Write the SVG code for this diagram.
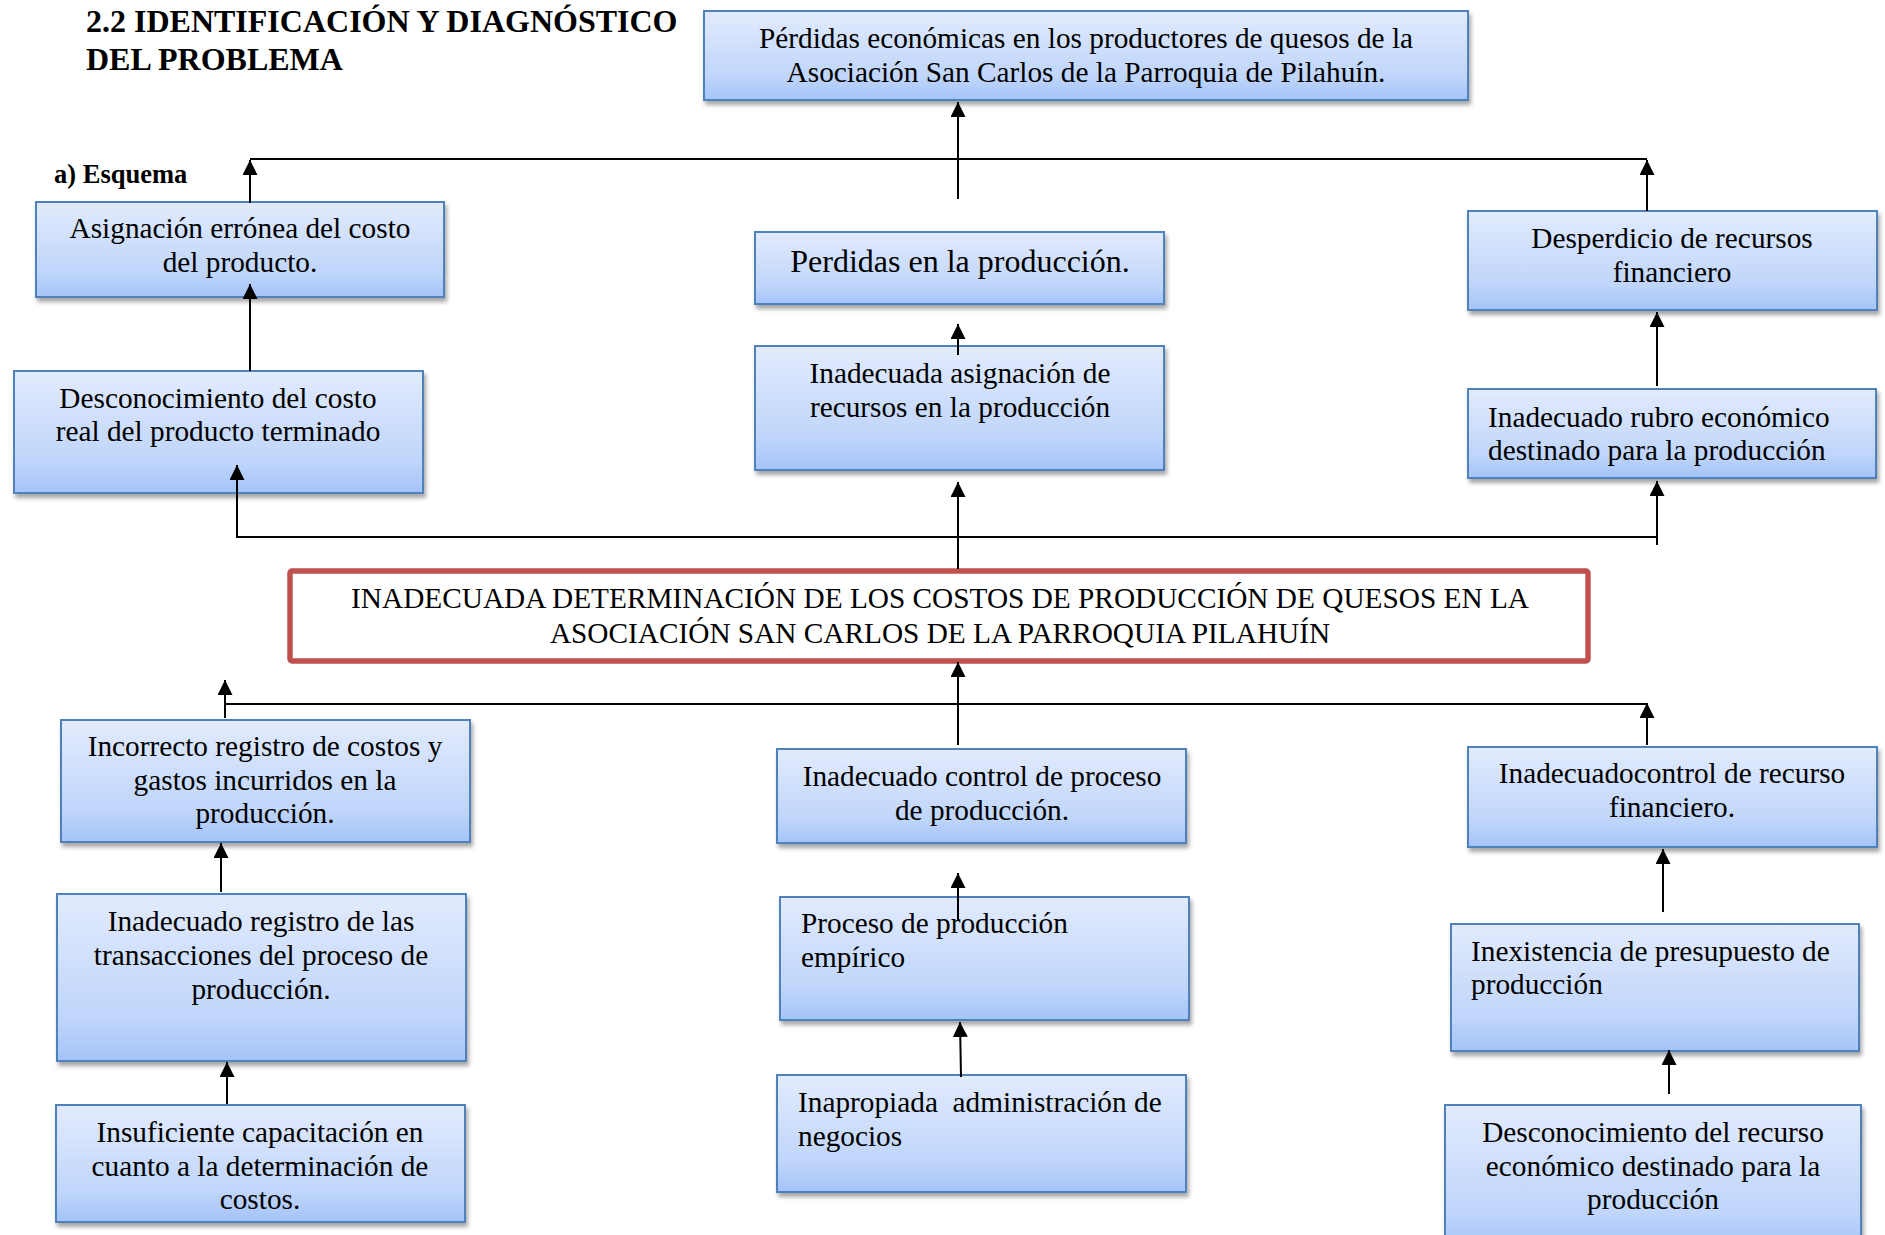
<svg xmlns="http://www.w3.org/2000/svg" width="1885" height="1235" viewBox="0 0 1885 1235">
<defs>
<linearGradient id="g" x1="0" y1="0" x2="0" y2="1">
<stop offset="0" stop-color="#e2ebfd"/>
<stop offset="0.75" stop-color="#bfd5fa"/>
<stop offset="1" stop-color="#a3c3f8"/>
</linearGradient>
<filter id="sh" x="-5%" y="-10%" width="115%" height="130%">
<feGaussianBlur in="SourceAlpha" stdDeviation="2.2"/>
<feOffset dx="2" dy="4" result="b"/>
<feFlood flood-color="#000" flood-opacity="0.35"/>
<feComposite in2="b" operator="in"/>
<feMerge><feMergeNode/><feMergeNode in="SourceGraphic"/></feMerge>
</filter>
<marker id="ah" viewBox="0 0 15 15" refX="15" refY="7.5" markerWidth="15" markerHeight="15" markerUnits="userSpaceOnUse" orient="auto">
<path d="M0,0 L15,7.5 L0,15 z" fill="#000"/>
</marker>
</defs>
<style>
.box{fill:url(#g);stroke:#4f81bd;stroke-width:2;filter:url(#sh)}
.red{fill:#fff;stroke:#c0504d;stroke-width:5.4}
text{font-family:"Liberation Serif","Times New Roman",serif;font-size:29.3px;fill:#000}
.c{text-anchor:middle}
.h{font-weight:bold;font-size:32px}
.e{font-weight:bold;font-size:26.5px}
.big{font-size:32px}
.ln{stroke:#000;stroke-width:2;fill:none}
.ar{stroke:#000;stroke-width:2;fill:none;marker-end:url(#ah)}
</style>
<rect width="1885" height="1235" fill="#fff"/>

<g id="title">
<text class="h" x="86" y="32">2.2 IDENTIFICACIÓN Y DIAGNÓSTICO</text>
<text class="h" x="86" y="70">DEL PROBLEMA</text>
<text class="e" x="54" y="183">a) Esquema</text>
</g>

<g id="n-perdidas-economicas">
<rect class="box" x="704" y="11" width="764" height="89"/>
<text class="c" x="1086" y="48">Pérdidas económicas en los productores de quesos de la</text>
<text class="c" x="1086" y="82">Asociación San Carlos de la Parroquia de Pilahuín.</text>
</g>

<g id="n-asignacion">
<rect class="box" x="36" y="202" width="408" height="95"/>
<text class="c" x="240" y="238">Asignación errónea del costo</text>
<text class="c" x="240" y="272">del producto.</text>
</g>

<g id="n-perdidas-produccion">
<rect class="box" x="755" y="232" width="409" height="72"/>
<text class="c big" x="960" y="272">Perdidas en la producción.</text>
</g>

<g id="n-desperdicio">
<rect class="box" x="1468" y="211" width="409" height="99"/>
<text class="c" x="1672" y="248">Desperdicio de recursos</text>
<text class="c" x="1672" y="282">financiero</text>
</g>

<g id="n-desconocimiento-costo">
<rect class="box" x="14" y="371" width="409" height="122"/>
<text class="c" x="218" y="408">Desconocimiento del costo</text>
<text class="c" x="218" y="441">real del producto terminado</text>
</g>

<g id="n-inadecuada-asignacion">
<rect class="box" x="755" y="346" width="409" height="124"/>
<text class="c" x="960" y="383">Inadecuada asignación de</text>
<text class="c" x="960" y="417">recursos en la producción</text>
</g>

<g id="n-inadecuado-rubro">
<rect class="box" x="1468" y="389" width="408" height="89"/>
<text x="1488" y="427">Inadecuado rubro económico</text>
<text x="1488" y="460">destinado para la producción</text>
</g>

<g id="n-problema">
<rect class="red" x="290" y="571" width="1298" height="90" rx="2"/>
<text class="c" x="940" y="608">INADECUADA DETERMINACIÓN DE LOS COSTOS DE PRODUCCIÓN DE QUESOS EN LA</text>
<text class="c" x="940" y="643">ASOCIACIÓN SAN CARLOS DE LA PARROQUIA PILAHUÍN</text>
</g>

<g id="n-incorrecto-registro">
<rect class="box" x="61" y="720" width="409" height="122"/>
<text class="c" x="265" y="756">Incorrecto registro de costos y</text>
<text class="c" x="265" y="790">gastos incurridos en la</text>
<text class="c" x="265" y="823">producción.</text>
</g>

<g id="n-inadecuado-registro">
<rect class="box" x="57" y="894" width="409" height="167"/>
<text class="c" x="261" y="931">Inadecuado registro de las</text>
<text class="c" x="261" y="965">transacciones del proceso de</text>
<text class="c" x="261" y="999">producción.</text>
</g>

<g id="n-insuficiente">
<rect class="box" x="56" y="1105" width="409" height="117"/>
<text class="c" x="260" y="1142">Insuficiente capacitación en</text>
<text class="c" x="260" y="1176">cuanto a la determinación de</text>
<text class="c" x="260" y="1209">costos.</text>
</g>

<g id="n-inadecuado-control-proceso">
<rect class="box" x="777" y="749" width="409" height="94"/>
<text class="c" x="982" y="786">Inadecuado control de proceso</text>
<text class="c" x="982" y="820">de producción.</text>
</g>

<g id="n-proceso-empirico">
<rect class="box" x="780" y="897" width="409" height="123"/>
<text x="801" y="933">Proceso de producción</text>
<text x="801" y="967">empírico</text>
</g>

<g id="n-inapropiada">
<rect class="box" x="777" y="1075" width="409" height="117"/>
<text x="798" y="1112">Inapropiada&#160; administración de</text>
<text x="798" y="1146">negocios</text>
</g>

<g id="n-inadecuadocontrol-recurso">
<rect class="box" x="1468" y="747" width="409" height="100"/>
<text class="c" x="1672" y="783">Inadecuadocontrol de recurso</text>
<text class="c" x="1672" y="817">financiero.</text>
</g>

<g id="n-inexistencia">
<rect class="box" x="1451" y="924" width="408" height="127"/>
<text x="1471" y="961">Inexistencia de presupuesto de</text>
<text x="1471" y="994">producción</text>
</g>

<g id="n-desconocimiento-recurso">
<rect class="box" x="1445" y="1105" width="416" height="145"/>
<text class="c" x="1653" y="1142">Desconocimiento del recurso</text>
<text class="c" x="1653" y="1176">económico destinado para la</text>
<text class="c" x="1653" y="1209">producción</text>
</g>

<g id="connectors">
<line class="ln" x1="250" y1="159" x2="1647" y2="159"/>
<line class="ar" x1="250" y1="203" x2="250" y2="160"/>
<line class="ar" x1="1647" y1="211" x2="1647" y2="160"/>
<line class="ar" x1="958" y1="199" x2="958" y2="102"/>
<line class="ar" x1="250" y1="371" x2="250" y2="284"/>
<line class="ar" x1="958" y1="355" x2="958" y2="324"/>
<line class="ar" x1="1657" y1="386" x2="1657" y2="312"/>
<line class="ln" x1="237" y1="537" x2="1657" y2="537"/>
<line class="ar" x1="237" y1="538" x2="237" y2="465"/>
<line class="ar" x1="958" y1="569" x2="958" y2="482"/>
<line class="ar" x1="1657" y1="545" x2="1657" y2="481"/>
<line class="ln" x1="225" y1="704" x2="1647" y2="704"/>
<line class="ar" x1="225" y1="718" x2="225" y2="680"/>
<line class="ar" x1="958" y1="745" x2="958" y2="662"/>
<line class="ar" x1="1647" y1="745" x2="1647" y2="703"/>
<line class="ar" x1="221" y1="892" x2="221" y2="843"/>
<line class="ar" x1="227" y1="1104" x2="227" y2="1062"/>
<line class="ar" x1="958" y1="921" x2="958" y2="873"/>
<line class="ar" x1="961" y1="1077" x2="960" y2="1022"/>
<line class="ar" x1="1663" y1="912" x2="1663" y2="849"/>
<line class="ar" x1="1669" y1="1094" x2="1669" y2="1050"/>
</g>
</svg>
